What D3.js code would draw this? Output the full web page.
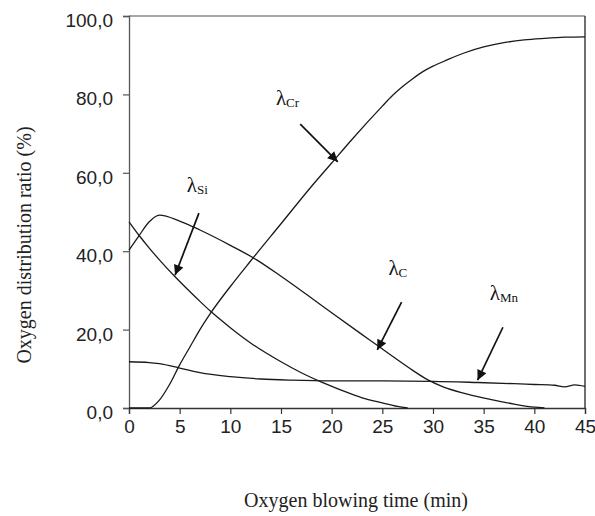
<!DOCTYPE html>
<html>
<head>
<meta charset="utf-8">
<script src="https://cdn.jsdelivr.net/npm/d3@7"></script>
<style>
  body { margin: 0; background: #fff; }
  svg { display: block; }
  .tick text { font-family: "Liberation Sans", Arial, sans-serif; font-size: 19px; fill: #222; }
  .title { font-family: "Liberation Serif", "Times New Roman", serif; font-size: 20px; fill: #222; }
  .lam { font-family: "Liberation Serif", "Times New Roman", serif; fill: #111; }
</style>
</head>
<body>
<svg id="chart" width="595" height="516"></svg>
<script>
// values: [time (min), ratio (%)]
var lambdaCr = [[0,0],[2,0],[3,2],[4,6],[5,11],[6,15.5],[7,20],[8,24],[10,31],[12,37.5],[15,47],[18,56.5],[20,62.5],[22,68.5],[25,77],[26,79.7],[27,82],[28,84],[29,85.8],[30,87.2],[31.4,88.8],[33,90.5],[35,92.1],[37,93.2],[39,93.9],[41,94.3],[43,94.6],[45,94.7]];
var lambdaSi = [[0,47.5],[1,44],[2,40.8],[3,37.8],[4.5,33.6],[6,29.7],[7,27.2],[8,24.8],[10,20.5],[12,16.6],[15,11.8],[17,9],[19,6.6],[21,4.5],[23,2.6],[25,1.3],[26.5,0.4],[27.5,0]];
var lambdaC = [[0,40.3],[1,44],[2,47.5],[3,49.2],[5,47.7],[7,45.4],[10,41.5],[12.6,37.8],[15,33.6],[17.5,29],[20,24.3],[22.8,19.1],[24.6,15.8],[26,13.2],[28,9.6],[29.4,7.3],[31,5.4],[33,3.8],[35.3,2.4],[38,1],[40,0.2],[41,0]];
var lambdaMn = [[0,11.8],[2,11.6],[3,11.3],[5,10.2],[7,9],[10,8],[13,7.4],[16,7.1],[20,6.9],[25,6.9],[30,6.8],[34.4,6.5],[38,6.2],[40,6],[42,5.8],[43,5.4],[44,5.9],[45,5.5]];

var xTicks = [0,5,10,15,20,25,30,35,40,45];
var yTicks = [0,20,40,60,80,100];

// annotation labels and arrows, in data units
var labels = [
  {name: "Cr", x: 14.5, y: 77.4, fx: 16.9, fy: 72.4, tx: 20.6, ty: 62.8},
  {name: "Si", x: 5.7, y: 55.1, fx: 6.9, fy: 49.7, tx: 4.55, ty: 33.9},
  {name: "C", x: 25.6, y: 33.9, fx: 26.9, fy: 27, tx: 24.5, ty: 14.8},
  {name: "Mn", x: 35.6, y: 27.6, fx: 36.9, fy: 20.6, tx: 34.4, ty: 7.1}
];

var svg = d3.select("#chart");

var x = d3.scaleLinear().domain([0, 45]).range([129, 585]);
var y = d3.scaleLinear().domain([0, 100]).range([408, 16]);

var fmt = function(d) { return d3.format(".1f")(d).replace(".", ","); };

// frame: top and right borders
svg.append("line")
  .attr("x1", x(0)).attr("x2", x(45))
  .attr("y1", y(100)).attr("y2", y(100))
  .attr("stroke", "#8a8a8a").attr("stroke-width", 1.5);
svg.append("line")
  .attr("x1", x(45)).attr("x2", x(45))
  .attr("y1", y(100)).attr("y2", y(0))
  .attr("stroke", "#222").attr("stroke-width", 1.3);

var xAxis = svg.append("g")
  .attr("transform", "translate(0," + y(0) + ")")
  .call(d3.axisBottom(x).tickValues(xTicks).tickSize(6).tickPadding(6).tickFormat(d3.format("d")));
xAxis.select(".domain").attr("stroke", "#333").attr("stroke-width", 1.3);
xAxis.selectAll(".tick line").attr("stroke", "#333").attr("stroke-width", 1.2);

var yAxis = svg.append("g")
  .attr("transform", "translate(" + x(0) + ",0)")
  .call(d3.axisLeft(y).tickValues(yTicks).tickSize(6).tickPadding(10).tickFormat(fmt));
yAxis.select(".domain").attr("stroke", "#555").attr("stroke-width", 1.3);
yAxis.selectAll(".tick line").attr("stroke", "#555").attr("stroke-width", 1.2);
yAxis.selectAll(".tick text").attr("dy", "0.55em");

// curves
var line = d3.line()
  .x(function(d) { return x(d[0]); })
  .y(function(d) { return y(d[1]); })
  .curve(d3.curveMonotoneX);

[lambdaCr, lambdaSi, lambdaC, lambdaMn].forEach(function(s) {
  svg.append("path")
    .datum(s)
    .attr("d", line)
    .attr("fill", "none")
    .attr("stroke", "#1a1a1a")
    .attr("stroke-width", 1.3);
});

// arrow marker
svg.append("defs").append("marker")
  .attr("id", "head")
  .attr("viewBox", "0 0 10 10")
  .attr("refX", 10).attr("refY", 5)
  .attr("markerWidth", 13).attr("markerHeight", 10)
  .attr("markerUnits", "userSpaceOnUse")
  .attr("orient", "auto")
  .append("path")
  .attr("d", "M0,0 L10,5 L0,10 Z")
  .attr("fill", "#111");

labels.forEach(function(l) {
  svg.append("line")
    .attr("x1", x(l.fx)).attr("y1", y(l.fy))
    .attr("x2", x(l.tx)).attr("y2", y(l.ty))
    .attr("stroke", "#111").attr("stroke-width", 1.7)
    .attr("marker-end", "url(#head)");

  var t = svg.append("text")
    .attr("class", "lam")
    .attr("x", x(l.x)).attr("y", y(l.y));
  t.append("tspan").attr("font-size", 21).text("λ");
  t.append("tspan").attr("font-size", 13).attr("dy", 2).text(l.name);
});

// axis titles
svg.append("text")
  .attr("class", "title")
  .attr("x", 356).attr("y", 507)
  .attr("text-anchor", "middle")
  .text("Oxygen blowing time (min)");

svg.append("text")
  .attr("class", "title")
  .attr("transform", "translate(31,245) rotate(-90)")
  .attr("text-anchor", "middle")
  .text("Oxygen distribution ratio (%)");
</script>
</body>
</html>
